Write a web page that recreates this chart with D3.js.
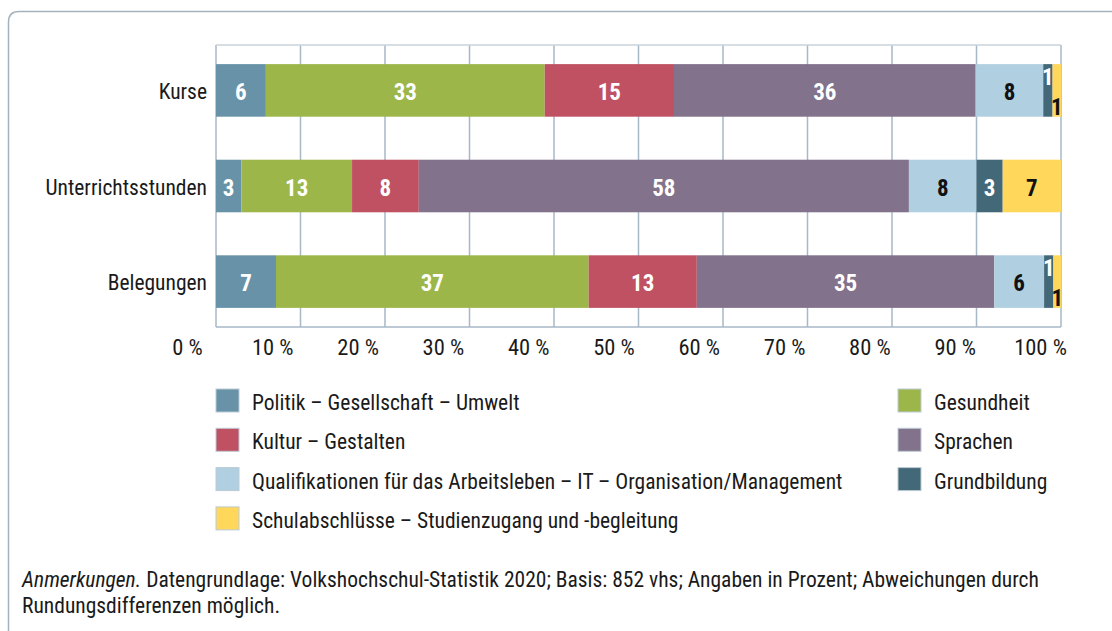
<!DOCTYPE html>
<html><head><meta charset="utf-8">
<script src="https://cdn.jsdelivr.net/npm/d3@7"></script>
<style>
body{margin:0;background:#fff;}
text{font-family:"Roboto Condensed","Open Sans",sans-serif;fill:#1a1a1a;}
</style></head>
<body><svg id="chart" width="1112" height="631"></svg>
<script>
// ---- data (percent) ----
const categories = ["Kurse", "Unterrichtsstunden", "Belegungen"];
const seriesNames = [
  "Politik – Gesellschaft – Umwelt",
  "Gesundheit",
  "Kultur – Gestalten",
  "Sprachen",
  "Qualifikationen für das Arbeitsleben – IT – Organisation/Management",
  "Grundbildung",
  "Schulabschlüsse – Studienzugang und -begleitung"
];
const politik          = [5.9, 3.0, 7.1];
const gesundheit       = [33.0, 13.1, 37.0];
const kultur           = [15.3, 7.9, 12.8];
const sprachen         = [35.7, 58.0, 35.2];
const qualifikationen  = [8.0, 8.0, 5.9];
const grundbildung     = [1.1, 3.1, 1.1];
const schulabschluesse = [1.0, 6.9, 0.9];
const xTicks = [0, 10, 20, 30, 40, 50, 60, 70, 80, 90, 100];
const noteItalic = "Anmerkungen.";
const noteLine1 = " Datengrundlage: Volkshochschul-Statistik 2020; Basis: 852 vhs; Angaben in Prozent; Abweichungen durch";
const noteLine2 = "Rundungsdifferenzen möglich.";

const colors = ["#6792a7", "#9db64a", "#c05162", "#82728b", "#b0cfe0", "#436878", "#fed75b"];
const labelColors = ["#fff", "#fff", "#fff", "#fff", "#111", "#fff", "#111"];

const seriesValues = [politik, gesundheit, kultur, sprachen, qualifikationen, grundbildung, schulabschluesse];
const table = categories.map((c, i) => {
  const row = {category: c};
  seriesNames.forEach((s, j) => row[s] = seriesValues[j][i]);
  return row;
});
const stacked = d3.stack().keys(seriesNames)(table);

const svg = d3.select("#chart");
const textSize = 21.5;

// outer frame (rounded top-left corner)
svg.append("path")
  .attr("d", "M8.5,631 V22 Q8.5,11.5 19,11.5 H1112")
  .attr("fill", "none").attr("stroke", "#a4b2bd").attr("stroke-width", 1.5);

const x = d3.scaleLinear().domain([0, 100]).range([216, 1061]);
// tick labels in the reference sit slightly left of their gridlines
const xLabel = d3.scaleLinear().domain([0, 100]).range([187, 1040]);
const plotTop = 45, plotBottom = 327;
const y = d3.scaleBand().domain(categories).range([plotTop, plotBottom])
  .paddingInner(0.45).paddingOuter(0.2);

// gridlines
svg.append("g").selectAll("line").data(xTicks).join("line")
  .attr("x1", d => x(d)).attr("x2", d => x(d))
  .attr("y1", plotTop).attr("y2", plotBottom)
  .attr("stroke", "#a7b9c7").attr("stroke-width", 1.5);
svg.append("line").attr("x1", x(0)).attr("x2", x(100)).attr("y1", plotTop).attr("y2", plotTop)
  .attr("stroke", "#c9d3db").attr("stroke-width", 1.5);
svg.append("line").attr("x1", x(0)).attr("x2", x(100)).attr("y1", plotBottom).attr("y2", plotBottom)
  .attr("stroke", "#a7b9c7").attr("stroke-width", 1.5);

// bars
const layers = svg.append("g").selectAll("g").data(stacked).join("g")
  .attr("fill", (d, i) => colors[i]);
layers.selectAll("rect").data(d => d).join("rect")
  .attr("x", d => x(d[0]))
  .attr("width", d => x(d[1]) - x(d[0]))
  .attr("y", d => y(d.data.category))
  .attr("height", y.bandwidth());

// bar labels
const labelSize = 23;
stacked.forEach((layer, i) => {
  svg.append("g").selectAll("text").data(layer).join("text")
    .attr("x", d => (x(d[0]) + x(d[1])) / 2)
    .attr("y", d => {
      const top = y(d.data.category), bottom = top + y.bandwidth();
      const w = x(d[1]) - x(d[0]);
      if (w < 14) {
        return (i === seriesNames.length - 1) ? bottom - 2 : top + 20.5;
      }
      return top + y.bandwidth() / 2 + 9.5;
    })
    .attr("text-anchor", "middle")
    .style("font-size", labelSize + "px")
    .style("font-weight", "700")
    .style("fill", labelColors[i])
    .text(d => Math.round(d[1] - d[0]));
});

// category axis labels
svg.append("g").selectAll("text").data(categories).join("text")
  .attr("x", 207)
  .attr("y", d => y(d) + y.bandwidth() / 2 + 8.5)
  .attr("text-anchor", "end")
  .style("font-size", textSize + "px")
  .text(d => d);

// x axis tick labels
const xAxis = d3.axisBottom(xLabel).tickValues(xTicks).tickFormat(d => d + " %").tickSize(0).tickPadding(0);
const gx = svg.append("g").attr("transform", `translate(0,${plotBottom})`).call(xAxis);
gx.select(".domain").remove();
gx.selectAll("text").attr("dy", null).attr("y", 28)
  .style("font-size", "22.5px").style("font-family", null).attr("fill", null);

// legend
const legend = svg.append("g");
seriesNames.forEach((s, i) => {
  const col = i % 2, row = Math.floor(i / 2);
  const lx = col === 0 ? 216 : 898;
  const ly = 389 + row * 39.3;
  legend.append("rect").attr("x", lx).attr("y", ly).attr("width", 23).attr("height", 23)
    .attr("fill", colors[i]).attr("stroke", "#bccad5").attr("stroke-width", 1);
  legend.append("text").attr("x", lx + 36).attr("y", ly + 21)
    .style("font-size", textSize + "px").text(s);
});

// note
const note = svg.append("text").attr("x", 22).attr("y", 587).style("font-size", textSize + "px");
note.append("tspan").style("font-style", "italic").text(noteItalic);
note.append("tspan").text(noteLine1);
svg.append("text").attr("x", 22).attr("y", 613).style("font-size", textSize + "px").text(noteLine2);
</script></body></html>
